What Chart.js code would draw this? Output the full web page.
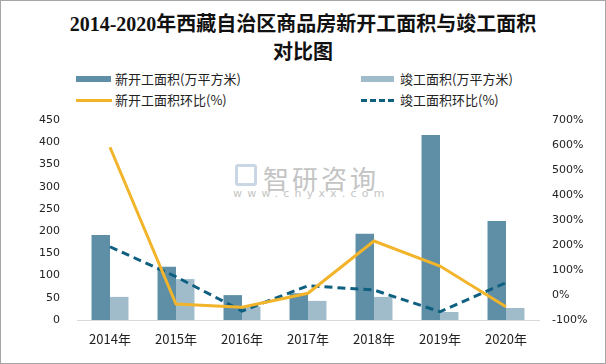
<!DOCTYPE html>
<html>
<head>
<meta charset="utf-8">
<script src="https://cdn.jsdelivr.net/npm/chart.js@4/dist/chart.umd.min.js"></script>
<style>
  html, body { margin: 0; padding: 0; background: #fff; }
  #wrap {
    position: relative; width: 604px; height: 362px;
    border: 1px solid #a6a6a6; background: #fff; overflow: hidden;
  }
  #title {
    position: absolute; left: 0; top: 9px; width: 604px; text-align: center;
    font: bold 20px "Liberation Serif", "Noto Sans CJK SC", serif;
    line-height: 28px; color: #111;
  }
  .lg {
    position: absolute; font: 13px "Noto Sans CJK SC", sans-serif; color: #222;
    height: 18px; line-height: 18px; white-space: nowrap;
  }
  .lg i { position: absolute; left: 0; top: 50%; display: block; }
  .lg span { position: absolute; left: 39px; top: 0; }
  #wm1 {
    position: absolute; left: 262px; top: 158px;
    font: 26px "Noto Sans CJK SC", sans-serif; color: #c4c4c4; letter-spacing: 3px;
  }
  #wm2 {
    position: absolute; left: 232px; top: 186px;
    font: 11px "DejaVu Sans", sans-serif; color: #c4c4c4; letter-spacing: 5.2px;
  }
  #wmicon {
    position: absolute; left: 234px; top: 163px; width: 22px; height: 22px;
    border: 3px solid #c9d6e4; border-radius: 3px; box-sizing: border-box;
  }
  canvas { position: absolute; left: 0; top: 0; }
</style>
</head>
<body>
<div id="wrap">
  <div id="title">2014-2020年西藏自治区商品房新开工面积与竣工面积<br>对比图</div>
  <div class="lg" style="left:75px;top:69px;"><i style="width:35px;height:6px;margin-top:-3px;background:#5e8fa6"></i><span>新开工面积(万平方米)</span></div>
  <div class="lg" style="left:360px;top:69px;"><i style="width:33px;height:6px;margin-top:-3px;background:#a0bccb"></i><span>竣工面积(万平方米)</span></div>
  <div class="lg" style="left:75px;top:90px;"><i style="width:36px;height:3px;margin-top:-1px;background:#f2b42a"></i><span>新开工面积环比(%)</span></div>
  <div class="lg" style="left:360px;top:90px;"><i style="width:33px;height:0;margin-top:-1px;border-top:3px dashed #0f5f80"></i><span>竣工面积环比(%)</span></div>
  <div id="wmicon"></div>
  <div id="wm1">智研咨询</div>
  <div id="wm2">www.chyxx.com</div>
  <canvas id="chart" width="604" height="362"></canvas>
</div>
<script>
// 数据
const years = ["2014年", "2015年", "2016年", "2017年", "2018年", "2019年", "2020年"];
const newStart = [191, 120, 56, 60, 194, 416, 223];      // 新开工面积(万平方米)
const completed = [52, 92, 30, 43, 52, 18, 27];          // 竣工面积(万平方米)
const newStartRatio = [591, -36, -49, 7, 216, 116, -47]; // 新开工面积环比(%)
const completedRatio = [193, 73, -64, 37, 20, -67, 49];  // 竣工面积环比(%)

const tickFont = { family: "DejaVu Sans", size: 11 };

const chart = new Chart(document.getElementById("chart").getContext("2d"), {
  type: "bar",
  data: {
    labels: years,
    datasets: [
      { type: "line", label: "新开工面积环比(%)", data: newStartRatio, yAxisID: "y1",
        borderColor: "#f2b42a", borderWidth: 3, pointRadius: 0, tension: 0, order: 0 },
      { type: "line", label: "竣工面积环比(%)", data: completedRatio, yAxisID: "y1",
        borderColor: "#0f5f80", borderWidth: 3, borderDash: [8, 5], pointRadius: 0, tension: 0, order: 0 },
      { label: "新开工面积(万平方米)", data: newStart, yAxisID: "y",
        backgroundColor: "#5e8fa6", categoryPercentage: 0.56, barPercentage: 1, order: 1 },
      { label: "竣工面积(万平方米)", data: completed, yAxisID: "y",
        backgroundColor: "#a0bccb", categoryPercentage: 0.56, barPercentage: 1, order: 1 }
    ]
  },
  options: {
    responsive: false,
    animation: false,
    layout: { padding: { top: 119, left: 0, right: 0, bottom: 0 } },
    plugins: { legend: { display: false }, tooltip: { enabled: false } },
    scales: {
      x: {
        grid: { display: false, drawTicks: false },
        border: { display: true, color: "#d9d9d9", width: 1 },
        ticks: { color: "#222", padding: 11, font: { family: "Noto Sans CJK SC", size: 13 } },
        afterFit: s => { s.height = 43; }
      },
      y: {
        position: "left", min: 0, max: 450,
        grid: { display: false, drawTicks: false },
        border: { display: false },
        ticks: { stepSize: 50, color: "#222", padding: 17, font: tickFont },
        afterFit: s => { s.width = 76; }
      },
      y1: {
        position: "right", min: -100, max: 700,
        grid: { display: false, drawTicks: false },
        border: { display: false },
        ticks: { stepSize: 100, color: "#222", padding: 13, font: tickFont, callback: v => v + "%" },
        afterFit: s => { s.width = 66; }
      }
    }
  }
});
</script>
</body>
</html>
